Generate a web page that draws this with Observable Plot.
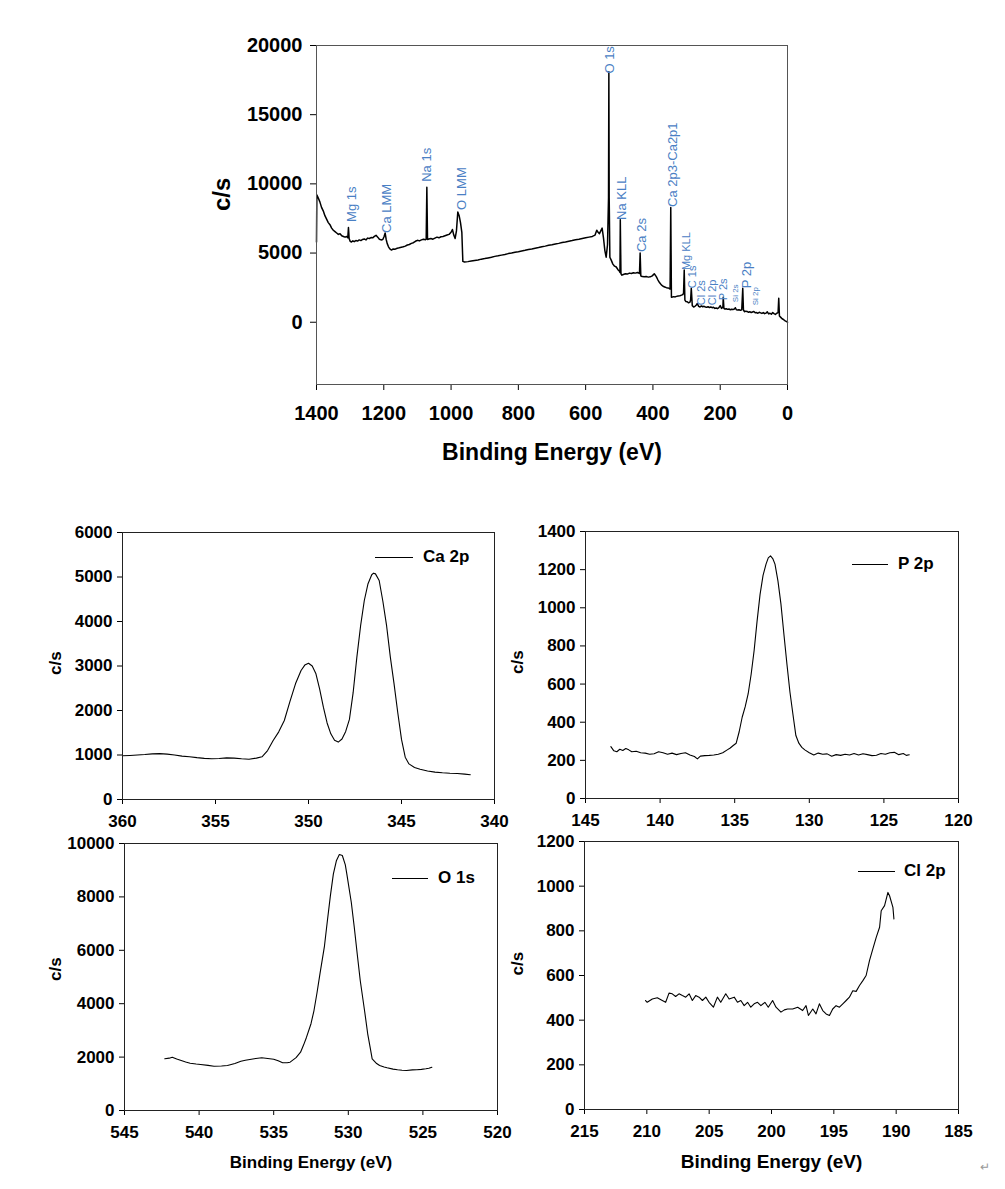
<!DOCTYPE html>
<html><head><meta charset="utf-8">
<script src="https://cdn.jsdelivr.net/npm/d3@7"></script>
<script src="https://cdn.jsdelivr.net/npm/@observablehq/plot@0.6"></script>
<style>
html,body{margin:0;padding:0;background:#fff;}
#wrap{position:relative;width:1005px;height:1189px;background:#fff;font-family:"Liberation Sans",Arial,sans-serif;overflow:hidden;}
.panel{position:absolute;}
.panel svg{overflow:visible;}
.leg{position:absolute;height:20px;display:flex;align-items:center;font-weight:bold;font-size:17px;color:#000;white-space:nowrap;}
.leg .ln{display:inline-block;height:0;border-top:1.3px solid #000;}
.ret{position:absolute;left:980px;top:1160px;font-size:12px;color:#999;}
</style></head><body><div id="wrap"></div>
<script>
// ---------- DATA ----------
// Survey spectrum: [binding energy (eV), counts per second]
const survey = [
[1400,5800],[1399,9200],[1395,9000],[1390,8700],[1385,8300],[1380,8050],[1375,7700],[1370,7450],[1365,7200],[1360,7050],
[1355,6800],[1350,6650],[1345,6550],[1340,6450],[1335,6350],[1330,6400],[1325,6250],[1320,6200],[1315,6150],[1310,6200],
[1307,6100],[1305,6850],[1303,6050],[1300,5850],[1296,5800],[1292,5880],[1288,5820],[1283,5900],[1278,5870],[1273,5950],
[1268,5900],[1263,5980],[1258,6020],[1253,5950],[1248,6080],[1243,6050],[1238,6120],[1233,6100],[1228,6200],[1223,6280],
[1218,6150],[1213,6000],[1208,5950],[1203,5980],[1199,6200],[1196,6450],[1193,6000],[1190,5700],[1186,5450],[1182,5300],
[1177,5220],[1172,5300],[1166,5280],[1160,5350],[1154,5380],[1148,5420],[1142,5450],[1136,5500],[1130,5580],[1124,5620],
[1118,5700],[1112,5750],[1106,5850],[1100,5920],[1094,5880],[1088,5950],[1082,6000],[1076,5960],[1074,6000],[1072,9750],
[1070,5980],[1066,6020],[1060,6050],[1054,6000],[1048,6080],[1042,6150],[1036,6100],[1030,6180],[1024,6200],[1018,6250],
[1012,6300],[1006,6350],[1000,6500],[996,6700],[992,6300],[988,6050],[984,6600],[980,7970],[976,7700],[972,7200],
[968,6500],[965,4400],[960,4350],[950,4380],[940,4420],[930,4460],[920,4500],[910,4560],[900,4600],[890,4650],
[880,4700],[870,4760],[860,4800],[850,4850],[840,4900],[830,4960],[820,5000],[810,5060],[800,5100],[790,5150],
[780,5200],[770,5260],[760,5300],[750,5350],[740,5400],[730,5460],[720,5500],[710,5560],[700,5600],[690,5650],
[680,5700],[670,5760],[660,5800],[650,5850],[640,5900],[630,5960],[620,6000],[610,6050],[600,6100],[590,6150],
[580,6200],[572,6300],[567,6650],[563,6500],[559,6400],[555,6600],[551,6800],[547,6100],[543,5200],[539,4700],
[535,5600],[532,9000],[531,18100],[530,9000],[528,4700],[524,4490],[519,4200],[514,4050],[509,3990],[504,3800],
[500,3700],[498,3600],[497,7400],[495,3500],[492,3400],[488,3450],[482,3500],[476,3480],[470,3550],[464,3520],
[458,3580],[452,3550],[446,3600],[442,3550],[440,3520],[438,5000],[436,3350],[432,3300],[426,3280],[420,3300],
[414,3260],[408,3280],[402,3350],[396,3500],[390,3300],[385,3050],[380,2850],[375,2700],[370,2600],[365,2550],
[360,2500],[355,2480],[352,2450],[349,2400],[347,8300],[345,1800],[342,1820],[338,1850],[334,1830],[330,1870],
[325,1900],[320,1920],[315,1960],[311,2000],[309,2100],[307,3770],[305,1600],[302,1500],[298,1480],[294,1400],
[290,1450],[288,1600],[286,2460],[283,1200],[279,1100],[275,1150],[271,1250],[268,1350],[264,1150],[260,1100],
[256,1180],[252,1120],[248,1150],[244,1100],[240,1080],[236,1120],[232,1060],[228,1100],[224,1050],[220,1080],
[216,1000],[212,1030],[208,980],[204,1050],[200,1200],[196,1000],[192,1100],[191,1810],[189,1000],[186,950],
[182,980],[178,930],[174,960],[170,900],[166,940],[162,920],[158,950],[155,1050],[152,900],[148,880],
[144,900],[140,860],[136,900],[133,2460],[131,900],[128,760],[124,800],[120,780],[116,720],[112,760],
[108,700],[104,740],[100,780],[96,680],[92,700],[88,650],[84,720],[80,680],[76,640],[72,700],
[68,620],[64,660],[60,750],[56,600],[52,650],[48,580],[44,700],[40,620],[36,560],[32,650],
[28,700],[26,1740],[24,450],[20,350],[16,250],[12,200],[8,120],[4,60],[0,0]
];
const surveyXTicks = [1400,1200,1000,800,600,400,200,0];
const surveyYTicks = [0,5000,10000,15000,20000];

// Peak annotations on the survey: name, energy, counts at label foot
const peakNames  = ["Mg 1s","Ca LMM","Na 1s","O LMM","O 1s","Na KLL","Ca 2s","Ca 2p3-Ca2p1","Mg KLL","C 1s","Cl 2s","Cl 2p","P 2s","Si 2s","P 2p","Si 2p"];
const peakEnergy = [1296,1191,1072,968,527,491,432,342,301,283,256,223,191,155,122,95];
const peakCounts = [7250,6450,10150,8120,17970,7390,5070,8330,3770,2460,1230,1230,1590,1450,2460,1230];

// High-resolution spectra: [binding energy (eV), counts per second]
const ca2p = [
[360,982],[359.6,990],[359.2,1000],[358.8,1010],[358.4,1025],[358.0,1030],[357.6,1020],[357.2,1000],[356.8,975],[356.4,960],
[356.0,940],[355.6,925],[355.2,915],[354.8,920],[354.4,935],[354.0,930],[353.6,915],[353.2,905],[352.8,930],[352.5,960],
[352.2,1100],[351.9,1326],[351.6,1520],[351.3,1775],[351.0,2200],[350.7,2600],[350.4,2900],[350.2,3020],[350.0,3063],[349.8,3000],
[349.6,2824],[349.4,2480],[349.2,2075],[349.0,1720],[348.8,1476],[348.6,1330],[348.4,1290],[348.2,1360],[348.0,1530],[347.8,1800],
[347.6,2400],[347.4,3200],[347.2,3900],[347.0,4472],[346.8,4850],[346.6,5050],[346.5,5086],[346.4,5070],[346.2,4921],[346.0,4450],
[345.8,3900],[345.6,3200],[345.4,2600],[345.2,1950],[345.0,1350],[344.8,950],[344.6,800],[344.3,720],[344.0,680],[343.6,640],
[343.2,615],[342.8,600],[342.4,590],[342.0,585],[341.6,570],[341.3,555]
];
const p2p = [
[143.3,272],[143.1,250],[142.9,245],[142.7,258],[142.5,252],[142.3,262],[142.1,255],[141.9,245],[141.6,248],[141.3,240],
[141.0,238],[140.7,232],[140.4,235],[140.1,245],[139.8,240],[139.5,232],[139.2,238],[138.9,230],[138.6,236],[138.3,240],
[138.0,228],[137.7,220],[137.5,208],[137.3,222],[137.0,225],[136.7,226],[136.4,228],[136.1,232],[135.8,240],[135.5,255],
[135.3,265],[135.1,278],[134.9,290],[134.7,350],[134.5,426],[134.3,480],[134.1,548],[133.9,650],[133.7,775],[133.5,930],
[133.3,1070],[133.1,1170],[132.9,1229],[132.75,1262],[132.6,1272],[132.45,1258],[132.3,1229],[132.1,1140],[131.9,1019],[131.7,860],
[131.5,705],[131.3,560],[131.1,443],[130.9,330],[130.7,290],[130.5,268],[130.3,255],[130.0,240],[129.7,228],[129.4,238],
[129.1,232],[128.8,234],[128.5,222],[128.2,230],[127.9,226],[127.6,232],[127.3,228],[127.0,236],[126.7,228],[126.4,235],
[126.1,230],[125.8,225],[125.5,227],[125.2,236],[124.9,232],[124.6,240],[124.3,242],[124.0,230],[123.7,236],[123.5,226],[123.3,229]
];
const o1s = [
[542.3,1936],[542.0,1960],[541.8,1996],[541.5,1930],[541.2,1873],[540.9,1820],[540.6,1772],[540.2,1740],[539.9,1723],[539.4,1690],
[539.0,1659],[538.5,1665],[538.1,1685],[537.6,1760],[537.2,1846],[536.9,1880],[536.6,1910],[536.2,1950],[535.8,1974],[535.4,1950],
[535.0,1922],[534.7,1860],[534.4,1787],[534.1,1790],[533.9,1810],[533.5,1980],[533.2,2184],[533.0,2450],[532.8,2746],[532.5,3250],
[532.3,3745],[532.1,4400],[531.9,5120],[531.6,6150],[531.4,7116],[531.2,8050],[531.0,8865],[530.8,9350],[530.6,9588],[530.4,9550],
[530.2,9200],[530.1,8865],[529.8,7800],[529.6,6865],[529.4,5850],[529.2,4869],[528.9,3700],[528.7,2873],[528.5,2250],[528.4,1936],
[528.1,1760],[527.9,1685],[527.6,1630],[527.4,1599],[527.0,1550],[526.7,1524],[526.4,1505],[526.1,1498],[525.7,1520],[525.4,1524],
[525.1,1540],[524.8,1562],[524.6,1580],[524.4,1622]
];
const cl2p = [
[210.10,488],[209.97,480],[209.56,495],[209.16,500],[208.76,488],[208.49,480],[208.22,521],[207.96,518],[207.69,506],[207.42,518],
[207.15,510],[206.88,503],[206.61,518],[206.35,488],[206.08,510],[205.81,503],[205.54,488],[205.27,503],[205.01,480],[204.66,458],
[204.34,503],[204.07,480],[203.67,518],[203.40,495],[202.99,503],[202.73,480],[202.46,488],[202.19,465],[201.92,480],[201.66,458],
[201.39,473],[201.12,480],[200.85,465],[200.53,480],[200.26,458],[199.91,488],[199.64,458],[199.24,436],[198.97,446],[198.71,450],
[198.30,450],[197.90,458],[197.50,443],[197.23,465],[197.04,421],[196.69,450],[196.43,428],[196.16,473],[195.89,443],[195.62,428],
[195.35,421],[195.09,450],[194.82,465],[194.55,458],[194.28,473],[194.01,488],[193.75,503],[193.48,532],[193.21,529],[192.94,555],
[192.67,577],[192.41,600],[192.14,667],[191.87,719],[191.60,771],[191.33,816],[191.20,890],[190.93,913],[190.66,972],[190.53,957],
[190.26,905],[190.18,853]
];
const legendNames = ["Ca 2p","P 2p","O 1s","Cl 2p"];
const yLabelText = "c/s";
const xLabelText = "Binding Energy (eV)";

// ---------- DRAWING ----------
const FONT = '"Liberation Sans", Arial, sans-serif';
const wrap = document.getElementById("wrap");

function place(svg, left, top) {
  const d = document.createElement("div");
  d.className = "panel";
  d.style.left = left + "px";
  d.style.top = top + "px";
  d.appendChild(svg);
  wrap.appendChild(d);
}

function drawPanel(c) {
  const rows = c.data.map(([e, v]) => ({e, v}));
  const marks = [
    Plot.line(rows, {x: "e", y: "v", stroke: "#000", strokeWidth: c.sw}),
    Plot.frame({stroke: c.frame, strokeWidth: 1}),
    Plot.text([yLabelText], {text: d => d, frameAnchor: "left", dx: c.yl.dx, dy: c.yl.dy, rotate: -90,
      fontSize: c.yl.size, fontWeight: "bold", fill: "#000"})
  ];
  if (c.xl) marks.push(Plot.text([xLabelText], {text: d => d, frameAnchor: "bottom", dy: c.xl.dy,
      fontSize: c.xl.size, fontWeight: "bold", fill: "#000"}));
  if (c.extra) marks.push(...c.extra);
  const svg = Plot.plot({
    width: c.w, height: c.h,
    marginLeft: c.m[0], marginRight: c.m[1], marginTop: c.m[2], marginBottom: c.m[3],
    style: {fontFamily: FONT, fontSize: c.tick + "px", fontWeight: "bold", color: "#000",
            background: "transparent", overflow: "visible"},
    x: {domain: c.xd, ticks: c.xt, tickFormat: d => String(d), tickSize: c.ts, tickPadding: c.xpad, label: null},
    y: {domain: c.yd, ticks: c.yt, tickFormat: d => String(d), tickSize: c.ts, tickPadding: c.ypad, label: null},
    marks
  });
  place(svg, c.left, c.top);
}

// Survey peak labels
const peakRows = peakNames.map((n, i) => ({n, e: peakEnergy[i], v: peakCounts[i]}));
const small = new Set(["Si 2s", "Si 2p"]);
const mid = new Set(["Mg KLL", "C 1s", "Cl 2s", "Cl 2p", "P 2s"]);
const blue = "#4a80c4";
const labelMark = (filter, size) => Plot.text(peakRows.filter(filter), {
  x: "e", y: "v", text: "n", rotate: -90, textAnchor: "start", fill: blue,
  fontSize: size, fontWeight: "normal", fontFamily: FONT});

drawPanel({
  data: survey, left: 0, top: 0, w: 1005, h: 480, m: [316, 218, 45, 96],
  xd: [1400, 0], yd: [-4500, 20000], xt: surveyXTicks, yt: surveyYTicks,
  tick: 20, ts: 6, xpad: 15, ypad: 8, sw: 1.5, frame: "#555",
  yl: {dx: -94, dy: -4, size: 24}, xl: {dy: 75, size: 23},
  extra: [
    labelMark(d => !small.has(d.n) && !mid.has(d.n), 13),
    labelMark(d => mid.has(d.n), 11),
    labelMark(d => small.has(d.n), 8)
  ]
});

drawPanel({
  data: ca2p, left: 0, top: 500, w: 505, h: 345, m: [122, 11, 32, 46],
  xd: [360, 340], yd: [0, 6000], xt: [360,355,350,345,340], yt: [0,1000,2000,3000,4000,5000,6000],
  tick: 17, ts: 5, xpad: 10, ypad: 5, sw: 1.1, frame: "#222",
  yl: {dx: -67, dy: 9, size: 17}
});
drawPanel({
  data: p2p, left: 500, top: 500, w: 505, h: 345, m: [85, 47, 31, 47],
  xd: [145, 120], yd: [0, 1400], xt: [145,140,135,130,125,120], yt: [0,200,400,600,800,1000,1200,1400],
  tick: 17, ts: 5, xpad: 10, ypad: 5, sw: 1.1, frame: "#222",
  yl: {dx: -68, dy: 9, size: 17}
});
drawPanel({
  data: o1s, left: 0, top: 820, w: 505, h: 369, m: [124, 8, 23, 79],
  xd: [545, 520], yd: [0, 10000], xt: [545,540,535,530,525,520], yt: [0,2000,4000,6000,8000,10000],
  tick: 17, ts: 5, xpad: 10, ypad: 5, sw: 1.1, frame: "#222",
  yl: {dx: -69, dy: 4, size: 17}, xl: {dy: 57, size: 17}
});
drawPanel({
  data: cl2p, left: 500, top: 820, w: 505, h: 369, m: [84, 47, 21, 80],
  xd: [215, 185], yd: [0, 1200], xt: [215,210,205,200,195,190,185], yt: [0,200,400,600,800,1000,1200],
  tick: 17, ts: 5, xpad: 10, ypad: 5, sw: 1.1, frame: "#222",
  yl: {dx: -67, dy: 0, size: 17}, xl: {dy: 58, size: 19}
});

// Legends (line sample + series name) inside each detail panel
const legendBoxes = [
  {left: 375, top: 547, len: 38, gap: 10},
  {left: 852, top: 554, len: 36, gap: 10},
  {left: 392, top: 868, len: 36, gap: 10},
  {left: 858, top: 861, len: 37, gap: 9}
];
legendNames.forEach((name, i) => {
  const b = legendBoxes[i];
  const d = document.createElement("div");
  d.className = "leg";
  d.style.left = b.left + "px";
  d.style.top = b.top + "px";
  const ln = document.createElement("span");
  ln.className = "ln";
  ln.style.width = b.len + "px";
  ln.style.marginRight = b.gap + "px";
  d.appendChild(ln);
  d.appendChild(document.createTextNode(name));
  wrap.appendChild(d);
});
const r = document.createElement("div");
r.className = "ret";
r.textContent = "↵";
wrap.appendChild(r);
</script>
</body></html>
